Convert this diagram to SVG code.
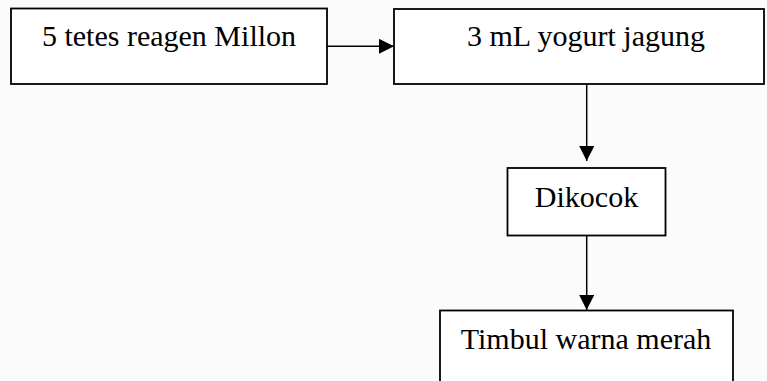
<svg xmlns="http://www.w3.org/2000/svg" width="767" height="381" viewBox="0 0 767 381">
  <defs>
    <marker id="arrow" markerWidth="15" markerHeight="15" refX="15" refY="7.5" orient="auto" markerUnits="userSpaceOnUse">
      <path d="M0,0 L15,7.5 L0,15 Z" fill="#000"/>
    </marker>
  </defs>
  <style>
    .box { fill: #ffffff; stroke: #000; stroke-width: 1.8; }
    .lbl { font-family: "Liberation Serif", "Times New Roman", serif; font-size: 30px; fill: #000; text-anchor: middle; }
    .conn { stroke: #000; stroke-width: 1.5; fill: none; marker-end: url(#arrow); }
  </style>
  <rect width="767" height="381" fill="#fbfbfb"/>
  <g id="node-millon">
    <rect class="box" x="11" y="8.5" width="316" height="75.5"/>
    <text class="lbl" x="169" y="46">5 tetes reagen Millon</text>
  </g>
  <g id="node-yogurt">
    <rect class="box" x="394" y="9" width="370" height="75"/>
    <text class="lbl" x="586" y="46">3 mL yogurt jagung</text>
  </g>
  <g id="node-dikocok">
    <rect class="box" x="507.5" y="168" width="158" height="67.5"/>
    <text class="lbl" x="586.5" y="207">Dikocok</text>
  </g>
  <g id="node-timbul">
    <rect class="box" x="440" y="310.5" width="293" height="80"/>
    <text class="lbl" x="586" y="348.5">Timbul warna merah</text>
  </g>
  <g id="connectors">
    <line class="conn" x1="327" y1="46.3" x2="394" y2="46.3"/>
    <line class="conn" x1="586.7" y1="84" x2="586.7" y2="161"/>
    <line class="conn" x1="586.7" y1="235.5" x2="586.7" y2="310"/>
  </g>
</svg>
